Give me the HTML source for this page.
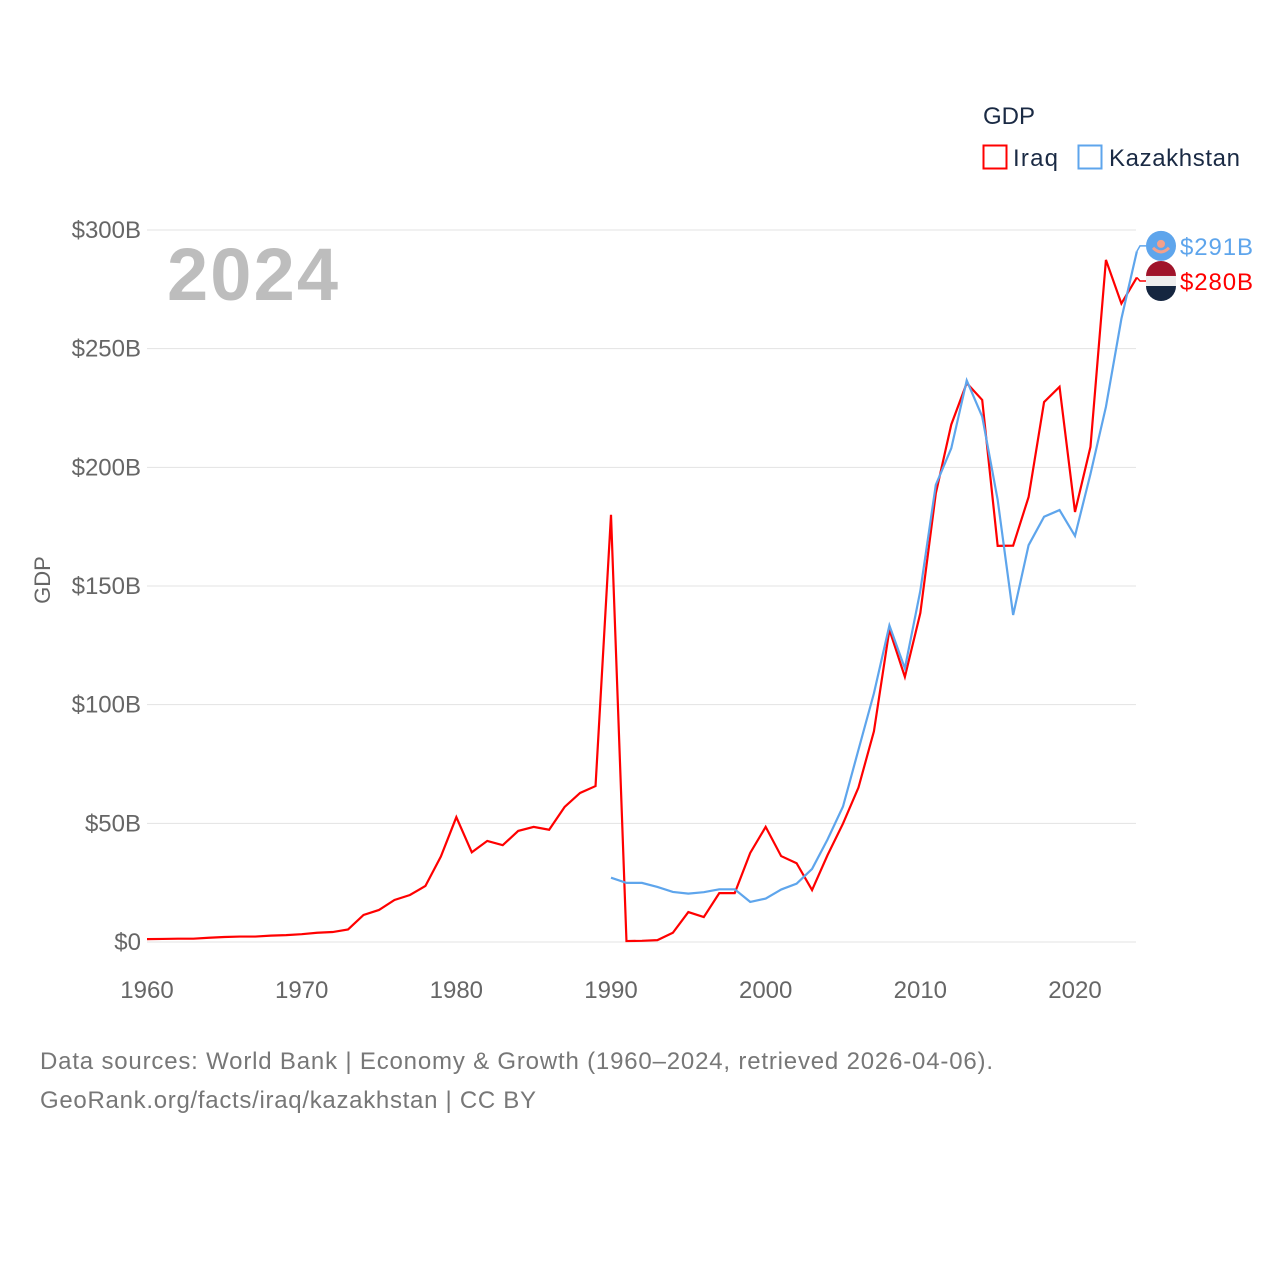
<!DOCTYPE html>
<html><head><meta charset="utf-8"><style>
body{margin:0;background:#fff;width:1280px;height:1280px;overflow:hidden;font-family:"Liberation Sans",sans-serif}
</style></head><body>
<svg width="1280" height="1280" style="position:absolute;left:0;top:0">
<g id="grid"></g>
<g id="yt"></g>
<g id="xt"></g>
<text x="167" y="300" font-size="74" font-weight="bold" fill="#bdbdbd" textLength="171">2024</text>
<text transform="translate(50,580) rotate(-90)" text-anchor="middle" font-size="22" fill="#666">GDP</text>
<g id="lines"></g>
<g>
<text x="983" y="124" font-size="24" fill="#1a2a44">GDP</text>
<g><rect x="983.5" y="145.5" width="23" height="23" fill="none" stroke="#ff0000" stroke-width="2"/><text x="1013" y="166" font-size="24" fill="#1a2a44" textLength="45">Iraq</text></g>
<g><rect x="1078.5" y="145.5" width="23" height="23" fill="none" stroke="#5ea5ec" stroke-width="2"/><text x="1109" y="166" font-size="24" fill="#1a2a44" textLength="131">Kazakhstan</text></g>
</g>
<text x="40" y="1069" font-size="24" fill="#777" textLength="953">Data sources: World Bank | Economy &amp; Growth (1960–2024, retrieved 2026-04-06).</text>
<text x="40" y="1108" font-size="24" fill="#777" textLength="496">GeoRank.org/facts/iraq/kazakhstan | CC BY</text>
</svg>
<script>
const years=[];for(let y=1960;y<=2024;y++)years.push(y);
const iraq=[1.2,1.3,1.4,1.4,1.8,2.1,2.3,2.3,2.7,2.9,3.3,3.9,4.2,5.3,11.4,13.5,17.7,19.8,23.6,36,52.6,37.8,42.6,40.8,46.8,48.5,47.3,56.9,62.8,65.7,180,0.4,0.5,0.8,3.9,12.6,10.5,20.6,20.6,37.5,48.5,36.2,33.2,21.9,36.6,49.9,65.1,88.8,131.6,111.7,138.6,189,218,235.5,228.4,166.9,167,187.5,227.5,233.9,181.2,208.6,287.4,269,280];
const kazYears=[];for(let y=1990;y<=2024;y++)kazYears.push(y);
const kaz=[27.1,24.9,24.9,23.2,21.1,20.4,21.0,22.2,22.2,16.9,18.3,22.1,24.6,30.8,43.2,57.1,81,104.8,133.4,115.3,148,192.6,208,236.6,221.4,186.3,137.8,167.2,179.2,182,171.1,197.2,225.5,262.6,291];
const yTicks=[0,50,100,150,200,250,300];
const yLabels=["$0","$50B","$100B","$150B","$200B","$250B","$300B"];
const xTicks=[1960,1970,1980,1990,2000,2010,2020];
const X=y=>147+(y-1960)*(1075-147)/60;
const Y=v=>942-v*(942-230)/300;
const NS="http://www.w3.org/2000/svg";
function mk(t,a,p){const e=document.createElementNS(NS,t);for(const k in a)e.setAttribute(k,a[k]);p.appendChild(e);return e;}
const g=document.getElementById('grid'),yt=document.getElementById('yt'),xt=document.getElementById('xt'),L=document.getElementById('lines');
yTicks.forEach((v,i)=>{
 const l=mk('line',{x1:147,x2:1136,y1:Y(v),y2:Y(v),stroke:'#e3e3e3','stroke-width':1},g);
 
 
 const t=mk('text',{x:141,y:Y(v)+8,'text-anchor':'end','font-size':24,fill:'#666'},yt);t.textContent=yLabels[i];
 
 
});
xTicks.forEach(v=>{
 const t=mk('text',{x:X(v),y:998,'text-anchor':'middle','font-size':24,fill:'#666'},xt);t.textContent=v;
 
 
});
function line(xs,vs,c,name){
 const p=mk('polyline',{points:xs.map((y,i)=>X(y)+','+Y(vs[i])).join(' '),fill:'none',stroke:c,'stroke-width':2.2,'stroke-linejoin':'miter'},L);
 
 
}
line(years,iraq,'#ff0000','iraq-line');
line(kazYears,kaz,'#5ea5ec','kazakhstan-line');
const kv=kaz[kaz.length-1],iv=iraq[iraq.length-1];
const ky=Y(kv)-5.5,iy=Y(iv)+3.5;
mk('polyline',{points:`${X(2024)},${Y(kv)} 1140,${ky} 1146,${ky}`,fill:'none',stroke:'#5ea5ec','stroke-width':1.5},L);
mk('polyline',{points:`${X(2024)},${Y(iv)} 1140,${iy} 1146,${iy}`,fill:'none',stroke:'#ff0000','stroke-width':1.5},L);
const kf=mk('circle',{cx:1161,cy:ky,r:15,fill:'#5ea5ec'},L);


mk('circle',{cx:1161,cy:ky-2,r:4,fill:'#f4a08a'},L);
mk('path',{d:`M1153 ${ky+2} Q1161 ${ky+10} 1169 ${ky+2}`,fill:'none',stroke:'#f4a08a','stroke-width':3},L);
const fi=mk('g',{},L);


mk('path',{d:`M1146 ${iy-5} A15 15 0 0 1 1176 ${iy-5} Z`,fill:'#a0142a'},fi);
mk('rect',{x:1146,y:iy-5,width:30,height:10,fill:'#eee'},fi);
mk('path',{d:`M1146 ${iy+5} A15 15 0 0 0 1176 ${iy+5} Z`,fill:'#152640'},fi);
const kt=mk('text',{x:1180,y:ky+9,'font-size':24,fill:'#5ea5ec',textLength:73},L);kt.textContent='$'+Math.round(kv)+'B';


const it=mk('text',{x:1180,y:iy+9,'font-size':24,fill:'#ff0000',textLength:73},L);it.textContent='$'+Math.round(iv)+'B';


</script>
</body></html>
